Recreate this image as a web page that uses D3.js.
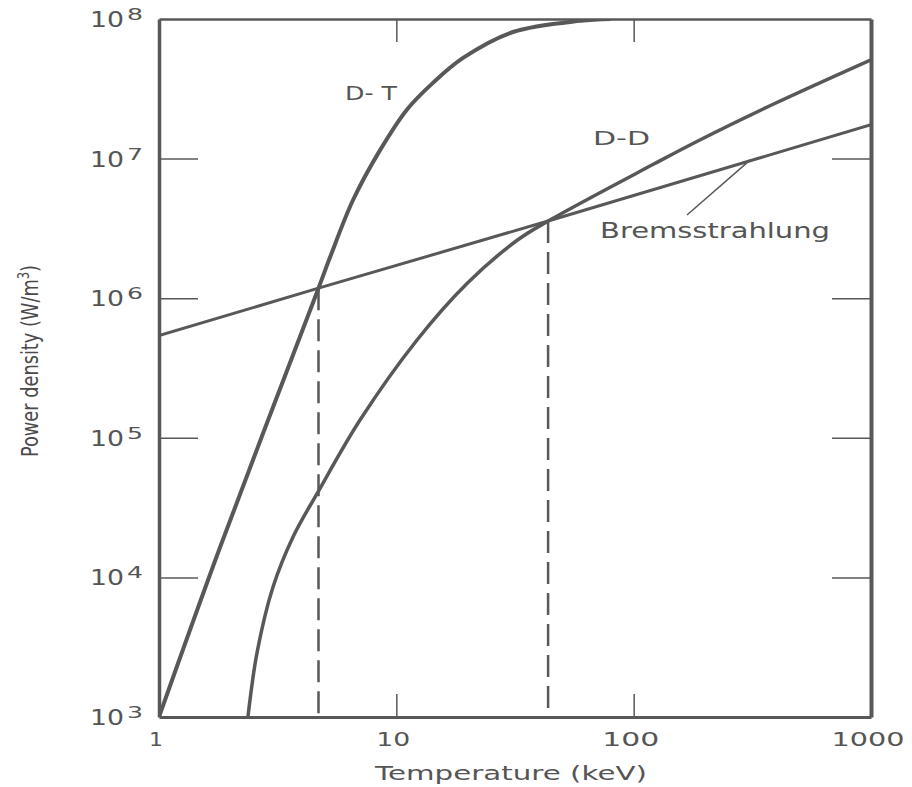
<html>
<script src="https://d3js.org/d3.v7.min.js"></script>
<style>
body { margin: 0; background: #fff; }
text { fill: #555; font-family: "DejaVu Sans", sans-serif; }
.curve { fill: none; stroke: #585858; stroke-linejoin: round; }
.axis path, .axis line { stroke: #585858; }
</style>
<body>
<svg width="912" height="787"></svg>
<script>
// values (temperature in keV, power density in W/m^3)
const xTicks = [1, 10, 100, 1000];
const yTicks = [1e3, 1e4, 1e5, 1e6, 1e7, 1e8];
const yExp = [3, 4, 5, 6, 7, 8];

const bremsT = [1, 4.7, 43.6, 1000];
const bremsP = [5.4e5, 1.18e6, 3.57e6, 1.75e7];

const dtT = [1, 1.81, 4.7, 5.26, 6.57, 8.54, 11.1, 14.3, 19.1, 31, 59.5, 80];
const dtP = [1e3, 1.65e4, 1.18e6, 1.97e6, 5.05e6, 1.15e7, 2.25e7, 3.5e7, 5.26e7, 8.07e7, 9.7e7, 1e8];

const ddT = [2.37, 2.59, 3.02, 3.67, 4.68, 7.03, 12.2, 19.9, 32.3, 43.6, 121, 190, 387, 1000];
const ddP = [1e3, 2.9e3, 8.5e3, 1.95e4, 4.1e4, 1.34e5, 5e5, 1.28e6, 2.6e6, 3.57e6, 9.1e6, 1.36e7, 2.45e7, 5.1e7];

// ignition crossings (dashed drops)
const crossT = [4.7, 43.6];
const crossP = [1.18e6, 3.57e6];

// printed widths of the wide typeface in the original
const xLabelWidth = [14, 34, 57, 73];

const svg = d3.select("svg");
const x = d3.scaleLog().domain([1, 1000]).range([159, 871]);
const y = d3.scaleLog().domain([1e3, 1e8]).range([717, 19]);

svg.append("clipPath").attr("id", "plot")
    .append("rect").attr("x", 159).attr("y", 19).attr("width", 712).attr("height", 698);

const line = d3.line().x(d => x(d[0])).y(d => y(d[1]));
const smooth = d3.line().x(d => x(d[0])).y(d => y(d[1])).curve(d3.curveCatmullRom.alpha(0.5));

const g = svg.append("g").attr("clip-path", "url(#plot)");

// dashed verticals first
g.selectAll(".drop")
    .data(crossT.map((t, i) => [[t, crossP[i]], [t, 1e3]]))
    .enter().append("path")
    .attr("class", "curve")
    .attr("d", line)
    .attr("stroke-width", 2.5)
    .attr("stroke-dasharray", "22,9");

g.append("path").attr("class", "curve")
    .attr("d", line(bremsT.map((t, i) => [t, bremsP[i]])))
    .attr("stroke-width", 3);

g.append("path").attr("class", "curve")
    .attr("d", smooth(dtT.map((t, i) => [t, dtP[i]])))
    .attr("stroke-width", 4);

g.append("path").attr("class", "curve")
    .attr("d", smooth(ddT.map((t, i) => [t, ddP[i]])))
    .attr("stroke-width", 3.5);

// frame with inward ticks
const inner = [1e4, 1e5, 1e6, 1e7];
svg.append("g").attr("class", "axis").attr("transform", "translate(159,0)")
    .call(d3.axisLeft(y).tickValues(inner).tickSize(-39).tickSizeOuter(0).tickFormat(""))
    .call(a => a.select(".domain").attr("stroke-width", 3.5))
    .call(a => a.selectAll(".tick line").attr("stroke-width", 1.5));
svg.append("g").attr("class", "axis").attr("transform", "translate(871,0)")
    .call(d3.axisRight(y).tickValues(inner).tickSize(-39).tickSizeOuter(0).tickFormat(""))
    .call(a => a.select(".domain").attr("stroke-width", 4))
    .call(a => a.selectAll(".tick line").attr("stroke-width", 1.5));
svg.append("g").attr("class", "axis").attr("transform", "translate(0,717)")
    .call(d3.axisBottom(x).tickValues([10, 100]).tickSize(-23).tickSizeOuter(0).tickFormat(""))
    .call(a => a.select(".domain").attr("stroke-width", 3))
    .call(a => a.selectAll(".tick line").attr("stroke-width", 1.5));
svg.append("g").attr("class", "axis").attr("transform", "translate(0,19)")
    .call(d3.axisTop(x).tickValues([10, 100]).tickSize(-23).tickSizeOuter(0).tickFormat(""))
    .call(a => a.select(".domain").attr("stroke-width", 2.5))
    .call(a => a.selectAll(".tick line").attr("stroke-width", 1.5));

// y tick labels 10^n
svg.selectAll(".ybase").data(yTicks).enter().append("text")
    .attr("x", 90).attr("y", d => y(d) + 8)
    .attr("textLength", 34).attr("lengthAdjust", "spacingAndGlyphs")
    .style("font-size", "21px")
    .text("10");
svg.selectAll(".yexp").data(yTicks).enter().append("text")
    .attr("x", 127).attr("y", d => y(d) + 1)
    .attr("textLength", 16).attr("lengthAdjust", "spacingAndGlyphs")
    .style("font-size", "15px")
    .text((d, i) => yExp[i]);

// x tick labels
svg.selectAll(".xlab").data(xTicks).enter().append("text")
    .attr("x", (d, i) => x(d) - 3 - xLabelWidth[i] / 2).attr("y", 746)
    .attr("textLength", (d, i) => xLabelWidth[i]).attr("lengthAdjust", "spacingAndGlyphs")
    .style("font-size", "20px")
    .text(d => d);

svg.append("text").attr("x", 375).attr("y", 780)
    .attr("textLength", 272).attr("lengthAdjust", "spacingAndGlyphs")
    .style("font-size", "20px")
    .text("Temperature (keV)");

const yt = svg.append("text").attr("transform", "translate(38,457) rotate(-90)")
    .attr("textLength", 192).attr("lengthAdjust", "spacingAndGlyphs")
    .style("font-family", "'Liberation Sans Narrow', 'DejaVu Sans Condensed', sans-serif")
    .style("font-stretch", "condensed")
    .style("font-size", "23px")
    .style("fill", "#4a4a4a");
yt.append("tspan").text("Power density (W/m");
yt.append("tspan").attr("dy", -9).style("font-size", "15px").text("3");
yt.append("tspan").attr("dy", 9).text(")");

// curve labels
svg.append("text").attr("x", 345).attr("y", 100)
    .attr("textLength", 52).attr("lengthAdjust", "spacingAndGlyphs")
    .style("font-size", "20px").text("D- T");
svg.append("text").attr("x", 593).attr("y", 145)
    .attr("textLength", 57).attr("lengthAdjust", "spacingAndGlyphs")
    .style("font-size", "20px").text("D-D");
svg.append("text").attr("x", 600).attr("y", 238)
    .attr("textLength", 230).attr("lengthAdjust", "spacingAndGlyphs")
    .style("font-size", "20.5px").text("Bremsstrahlung");

// leader from label to the bremsstrahlung line
svg.append("path").attr("class", "curve").attr("stroke-width", 1.5)
    .attr("d", line([[310, 9.8e6], [x.invert(687), y.invert(215)]]));
</script>
</body>
</html>
